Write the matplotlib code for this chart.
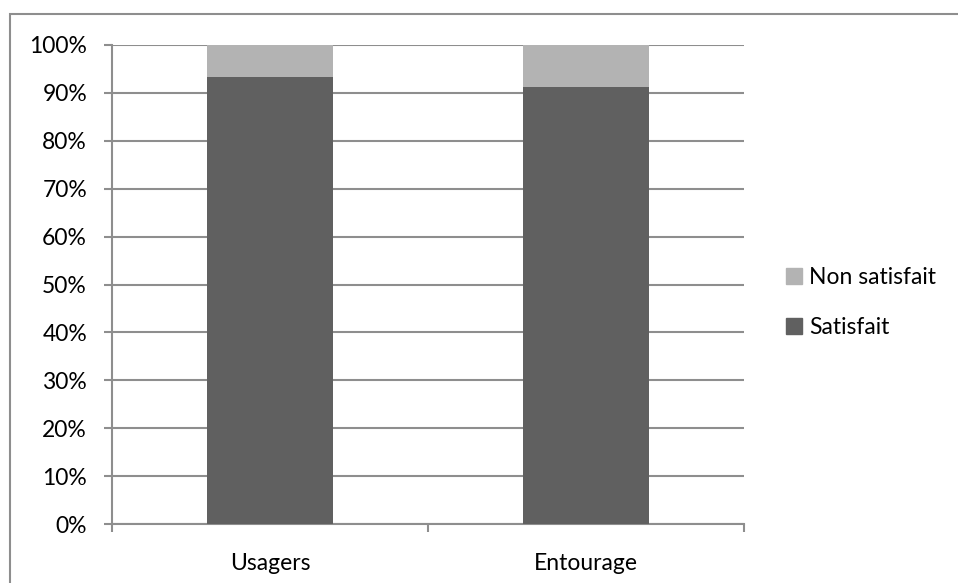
import matplotlib
matplotlib.use("Agg")
import matplotlib.pyplot as plt
from matplotlib.patches import Rectangle, Patch
from matplotlib.ticker import FixedLocator, PercentFormatter

categories = ["Usagers", "Entourage"]
satisfait = [93.3, 91.2]
non_satisfait = [6.7, 8.8]
yticks = [0, 10, 20, 30, 40, 50, 60, 70, 80, 90, 100]

dark = "#606060"
light = "#b3b3b3"
line_gray = "#8e8e8e"
font = ["Lato", "DejaVu Sans"]
fs = 16.5

plt.rcParams["font.family"] = font

W, H = 958, 583
fig = plt.figure(figsize=(W / 100, H / 100), dpi=100)
fig.patch.set_facecolor("white")

# outer chart frame (only top/left edges fall within the canvas)
fig.patches.append(Rectangle((10 / W, -0.1), 1.2, (H - 14) / H + 0.1,
                             transform=fig.transFigure, fill=False,
                             edgecolor=line_gray, linewidth=1.5))

ax = fig.add_axes([112 / W, (H - 524.3) / H, (744 - 112) / W, (524.3 - 44.7) / H])
x = list(range(len(categories)))
ax.bar(x, satisfait, width=0.4, color=dark, zorder=3, label="Satisfait")
ax.bar(x, non_satisfait, width=0.4, bottom=satisfait, color=light, zorder=3,
       label="Non satisfait")

ax.set_xlim(-0.5, len(categories) - 0.5)
ax.set_ylim(0, 100)
ax.set_yticks(yticks)
ax.yaxis.set_major_formatter(PercentFormatter(decimals=0))
ax.grid(axis="y", color=line_gray, linewidth=1.5, zorder=0)

ax.set_xticks(x)
ax.set_xticklabels(categories)
ax.xaxis.set_minor_locator(FixedLocator([-0.5 + i for i in range(len(categories) + 1)]))
ax.tick_params(axis="x", which="major", length=0, pad=21, labelsize=fs)
ax.tick_params(axis="x", which="minor", length=6, width=1.5, color=line_gray, direction="out")
ax.tick_params(axis="y", length=6, width=1.5, color=line_gray, pad=12, labelsize=fs)

for s in ["top", "right"]:
    ax.spines[s].set_visible(False)
for s in ["left", "bottom"]:
    ax.spines[s].set_color(line_gray)
    ax.spines[s].set_linewidth(1.5)

handles = [Patch(color=light, label="Non satisfait"), Patch(color=dark, label="Satisfait")]
fig.legend(handles=handles, loc="center left", bbox_to_anchor=(777 / W, (H - 302.5) / H),
           frameon=False, fontsize=fs, handlelength=0.7, handleheight=0.7,
           handletextpad=0.3, labelspacing=1.25, borderaxespad=0)

fig.savefig("out.png", dpi=100, facecolor="white")
